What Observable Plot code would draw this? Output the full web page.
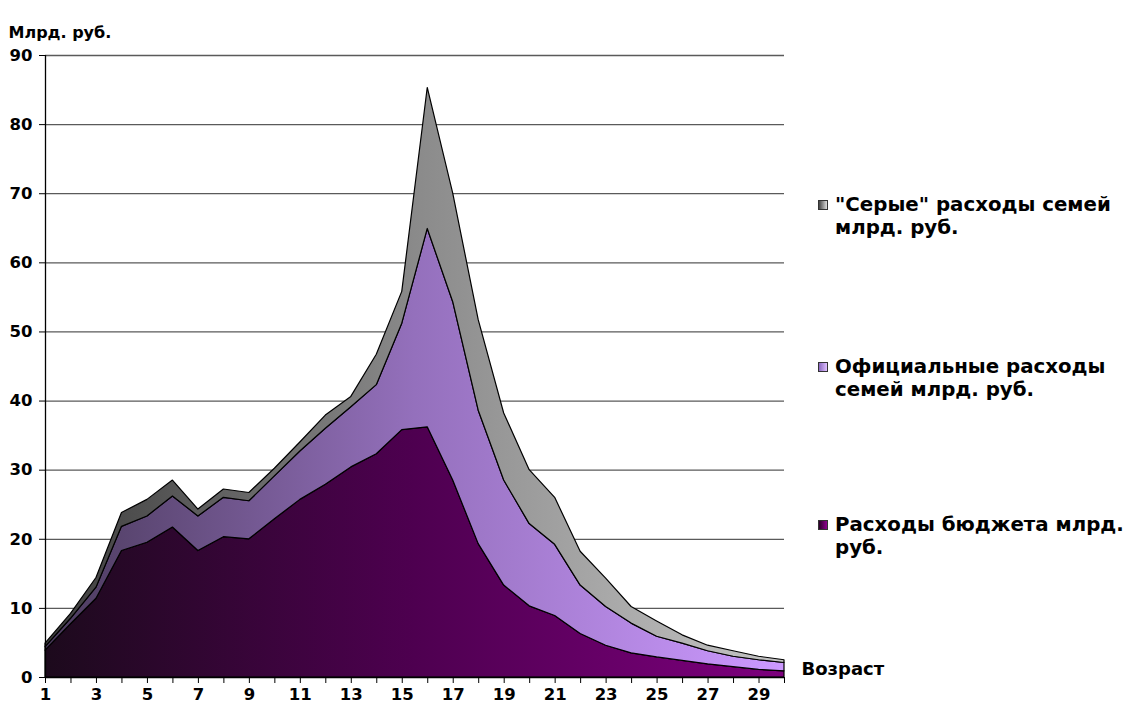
<!DOCTYPE html>
<html>
<head>
<meta charset="utf-8">
<script src="https://cdn.jsdelivr.net/npm/d3@7"></script>
<script src="https://cdn.jsdelivr.net/npm/@observablehq/plot@0.6"></script>
<style>
  html, body { margin: 0; padding: 0; background: #fff; }
  #wrap { position: relative; width: 1133px; height: 711px; overflow: hidden; font-family: "DejaVu Sans", Verdana, sans-serif; font-weight: bold; }
  .leg { position: absolute; left: 835px; font-size: 19.8px; line-height: 23px; color: #000; white-space: nowrap; }
  .sw { position: absolute; left: -17px; top: 7px; width: 10px; height: 10px; border: 1px solid #333; box-sizing: border-box; }
</style>
</head>
<body>
<div id="wrap"></div>
<script>
// ---- data ----
const ages = d3.range(1, 31);
const seriesNames = ["Расходы бюджета млрд. руб.", "Официальные расходы семей млрд. руб.", "\"Серые\" расходы семей млрд. руб."];
const budget   = [3.9,7.7,11.4,18.3,19.5,21.7,18.3,20.3,20.0,22.9,25.7,27.9,30.4,32.3,35.8,36.2,28.5,19.3,13.3,10.3,8.9,6.3,4.6,3.5,2.9,2.4,1.9,1.5,1.1,0.9];
const official = [0.5,0.8,1.6,3.5,3.8,4.5,5.0,5.7,5.5,6.2,7.0,8.1,8.7,10.0,15.4,28.7,25.8,19.3,15.2,11.9,10.3,7.0,5.6,4.3,3.0,2.5,1.9,1.5,1.4,1.2];
const grey     = [0.5,0.7,1.4,2.0,2.4,2.3,1.0,1.2,1.2,1.1,1.3,1.9,1.5,4.4,4.6,20.4,15.7,13.1,9.7,7.8,6.8,4.9,4.1,2.4,2.2,1.2,0.8,0.8,0.5,0.4];
const yTicks = d3.range(0, 91, 10);
const gridTicks = d3.range(10, 91, 10);

const seriesValues = [budget, official, grey];
const data = [];
seriesValues.forEach((vals, si) => {
  vals.forEach((v, i) => data.push({age: ages[i], value: v, series: seriesNames[si]}));
});

const W = 900, H = 711;
const chart = Plot.plot({
  width: W,
  height: H,
  marginLeft: 45,
  marginRight: W - 784,
  marginTop: 55,
  marginBottom: 34,
  style: "font-family: 'DejaVu Sans', Verdana, sans-serif; font-weight: bold; font-size: 16.5px; background: transparent; overflow: visible;",
  x: {domain: [1, 30], label: null},
  y: {domain: [0, 90], label: null},
  color: {domain: seriesNames, range: ["url(#gBudget)", "url(#gOfficial)", "url(#gGrey)"]},
  marks: [
    Plot.ruleY(gridTicks, {stroke: "#5a5a5a", strokeWidth: 1.3}),
    Plot.areaY(data, {x: "age", y: "value", fill: "series", z: "series", stroke: "#000", strokeWidth: 1.2, order: seriesNames}),
    Plot.axisY({ticks: yTicks, tickSize: 6, tickPadding: 7, tickFormat: d => d, stroke: "#000", label: null, fontSize: 16.5, fontWeight: "bold"}),
    Plot.axisX({ticks: ages, tickSize: 6, tickPadding: 5, tickFormat: d => (d % 2 ? d : ""), stroke: "#000", label: null, fontSize: 16.5, fontWeight: "bold"}),
    Plot.ruleX([1], {stroke: "#000", strokeWidth: 1.3}),
    Plot.ruleY([0], {stroke: "#000", strokeWidth: 1.3}),
    Plot.text(["Млрд. руб."], {frameAnchor: "top-left", dx: -37, dy: -29, textAnchor: "start", fontSize: 16, fontWeight: "bold"}),
    Plot.text(["Возраст"], {frameAnchor: "bottom-right", dx: 17, dy: -3, textAnchor: "start", fontSize: 18, fontWeight: "bold"})
  ]
});

// horizontal gradients matching the reference fills
const defs = d3.select(chart).insert("defs", ":first-child");
function grad(id, stops) {
  const g = defs.append("linearGradient").attr("id", id)
    .attr("gradientUnits", "userSpaceOnUse").attr("x1", 45).attr("x2", 784).attr("y1", 0).attr("y2", 0);
  stops.forEach(([o, c]) => g.append("stop").attr("offset", o).attr("stop-color", c));
}
grad("gBudget", [[0, "#1c0a1c"], [0.5, "#4e0050"], [1, "#7d007d"]]);
grad("gOfficial", [[0, "#4a3a5c"], [0.5, "#9470bc"], [1, "#cc99ff"]]);
grad("gGrey", [[0, "#3c3c3c"], [0.5, "#8a8a8a"], [1, "#c4c4c4"]]);

const wrap = document.getElementById("wrap");
chart.style.position = "absolute";
chart.style.left = "0px";
chart.style.top = "0px";
wrap.appendChild(chart);

// legend (top to bottom: grey, official, budget)
const legendItems = [
  {lines: ["\"Серые\" расходы семей", "млрд. руб."], top: 193, sw: "linear-gradient(to right, #444, #ddd)"},
  {lines: ["Официальные расходы", "семей млрд. руб."], top: 355, sw: "linear-gradient(to right, #8a68c0, #e0c0ff)"},
  {lines: ["Расходы бюджета млрд.", "руб."], top: 513, sw: "linear-gradient(to right, #2a0028, #900090)"}
];
legendItems.forEach(it => {
  const div = document.createElement("div");
  div.className = "leg";
  div.style.top = it.top + "px";
  div.innerHTML = it.lines.join("<br>");
  const sw = document.createElement("span");
  sw.className = "sw";
  sw.style.background = it.sw;
  div.appendChild(sw);
  wrap.appendChild(div);
});
</script>
</body>
</html>
